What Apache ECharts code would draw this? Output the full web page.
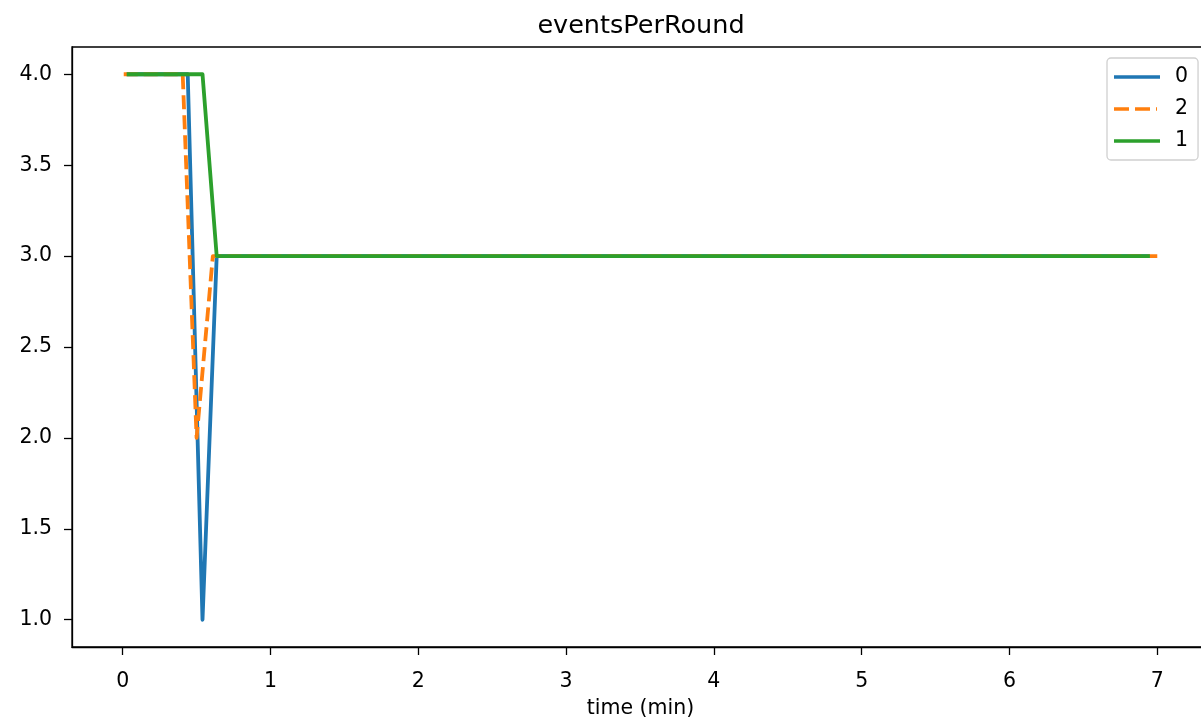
<!DOCTYPE html>
<html>
<head>
<meta charset="utf-8">
<script src="https://cdn.jsdelivr.net/npm/echarts@6/dist/echarts.min.js"></script>
<style>html,body{margin:0;padding:0;background:#fff;overflow:hidden}#c{width:1230px;height:721px}</style>
</head>
<body>
<div id="c"></div>
<script>
const seriesNames = ['0', '2', '1'];
const times0 = [0.027, 0.44, 0.54, 0.636, 6.95];
const values0 = [4, 4, 1, 3, 3];
const times2 = [0.007, 0.406, 0.50, 0.61, 7.0];
const values2 = [4, 4, 2, 3, 3];
const times1 = [0.027, 0.54, 0.636, 6.95];
const values1 = [4, 4, 3, 3];
const xTicks = [0, 1, 2, 3, 4, 5, 6, 7];
const yTicks = [1.0, 1.5, 2.0, 2.5, 3.0, 3.5, 4.0];

const colors = ['#1f77b4', '#ff7f0e', '#2ca02c'];
const font = 'DejaVu Sans';
const pairs = (t, v) => t.map((x, i) => [x, v[i]]);
const allData = [pairs(times0, values0), pairs(times2, values2), pairs(times1, values1)];
// invisible tiny corners keep the icon's bounding box 46x16 so the bar stays ~3.6px thick
const box = 'M0,0L0.01,0L0.01,0.01Z M46,16L45.99,16L45.99,15.99Z ';
const solidIcon = 'path://' + box + 'M0,6.2L46,6.2L46,9.8L0,9.8Z';
const dashIcon = 'path://' + box + 'M0,6.2L15,6.2L15,9.8L0,9.8Z M21,6.2L36,6.2L36,9.8L21,9.8Z M42,6.2L43,6.2L43,9.8L42,9.8Z';

const chart = echarts.init(document.getElementById('c'), null, {renderer: 'canvas'});
chart.setOption({
  animation: false,
  backgroundColor: '#fff',
  title: {
    text: 'eventsPerRound', left: 636, top: 8, textAlign: 'center',
    textStyle: {fontFamily: font, fontSize: 25.5, fontWeight: 'normal', color: '#000'}
  },
  legend: {
    orient: 'vertical', left: 1107, top: 58, width: 91,
    padding: [7, 10, 7, 7], itemGap: 8, itemWidth: 46, itemHeight: 16,
    backgroundColor: '#fff', borderColor: '#d0d0d0', borderWidth: 1.3, borderRadius: 4,
    itemStyle: {borderWidth: 0},
    textStyle: {fontFamily: font, fontSize: 20.5, color: '#000', padding: [0, 0, 0, 10], lineHeight: 24},
    data: seriesNames.map((n, i) => ({name: n, icon: i === 1 ? dashIcon : solidIcon,
      itemStyle: {color: colors[i], borderWidth: 0}}))
  },
  grid: {
    left: 72, top: 47, width: 1137, height: 600,
    outerBoundsMode: 'none', containLabel: false,
    show: true, borderColor: '#000', borderWidth: 1.3, backgroundColor: 'transparent'
  },
  xAxis: {
    type: 'value', min: -0.343, max: 7.35,
    name: 'time (min)', nameLocation: 'middle', nameGap: 51,
    nameTextStyle: {fontFamily: font, fontSize: 20.5, color: '#000'},
    axisLine: {show: true, onZero: false, lineStyle: {color: '#000', width: 1.3}},
    axisTick: {show: true, length: 8, lineStyle: {color: '#000', width: 1.3}, customValues: xTicks},
    axisLabel: {fontFamily: font, fontSize: 20.5, color: '#000', margin: 24, customValues: xTicks,
      formatter: v => String(v)},
    splitLine: {show: false}
  },
  yAxis: {
    type: 'value', min: 0.85, max: 4.15,
    axisLine: {show: true, onZero: false, lineStyle: {color: '#000', width: 1.3}},
    axisTick: {show: true, length: 8, lineStyle: {color: '#000', width: 1.3}, customValues: yTicks},
    axisLabel: {fontFamily: font, fontSize: 20.5, color: '#000', margin: 20, customValues: yTicks,
      formatter: v => v.toFixed(1)},
    splitLine: {show: false}
  },
  series: seriesNames.map((n, i) => ({
    name: n, type: 'line', data: allData[i], symbol: 'none', showSymbol: false,
    color: colors[i],
    itemStyle: {color: colors[i]},
    lineStyle: {color: colors[i], width: 3.8, type: i === 1 ? [14, 6] : 'solid', cap: 'butt', join: 'round'},
    z: 2 + i
  }))
});
</script>
</body>
</html>
